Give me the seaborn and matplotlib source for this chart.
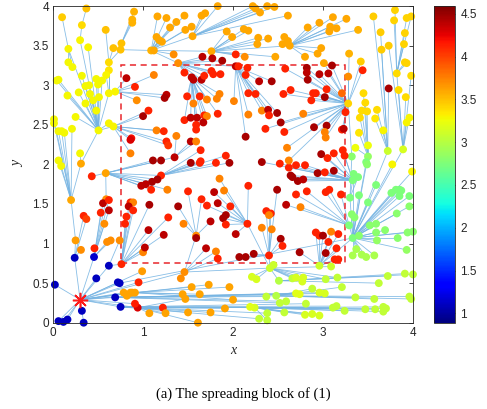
import numpy as np
import pandas as pd
import seaborn as sns
import matplotlib
import matplotlib.pyplot as plt
from matplotlib.collections import LineCollection
from matplotlib.patches import Rectangle

# Hub nodes of the spreading tree: position, colour value and parent hub
hub_name = ["S", "BA", "BB", "BC", "BD", "BE", "BF", "OA", "OB", "OC", "YH",
            "Y1", "Y2", "Y3", "Y4", "Y5", "Y6", "Y8", "O1", "O2", "T1", "T2",
            "T3", "T4", "R1", "R2", "D1", "H1", "O3", "H2", "H3", "H4", "OH",
            "OH2", "YH1", "Rm", "RC", "GH", "YH2", "G1", "G2", "RH", "G3",
            "G4", "YR1", "YR2", "YR3", "YR4", "Y7", "OD", "OE", "L1", "L2"]
hub_x = [0.30, 0.24, 0.455, 0.62, 0.74, 0.69, 0.75, 0.25, 0.20, 0.31, 0.505,
         0.30, 0.17, 0.62, 0.62, 0.69, 0.67, 0.32, 0.75, 0.76, 1.09, 1.55,
         1.76, 2.63, 1.39, 1.54, 2.03, 0.76, 0.59, 0.585, 1.20, 1.35, 1.46,
         1.59, 2.41, 2.40, 2.16, 3.33, 2.96, 3.30, 3.32, 3.28, 3.29,
         3.33, 3.50, 3.72, 3.89, 3.82, 2.51, 0.91, 0.94, 2.24, 2.48]
hub_y = [0.29, 0.82, 0.83, 0.72, 0.50, 0.32, 0.20, 1.04, 1.55, 2.01, 2.43,
         3.57, 3.46, 2.90, 3.29, 2.92, 2.48, 3.76, 3.45, 3.53, 3.44, 3.62,
         3.43, 3.50, 3.28, 3.10, 3.24, 0.74, 1.56, 1.89, 1.86, 2.09, 0.64,
         1.10, 0.69, 0.85, 1.25, 1.07, 0.72, 1.58, 2.10, 2.77, 1.23,
         1.80, 2.10, 2.17, 2.19, 3.15, 0.53, 0.38, 0.19, 0.19, 0.34]
hub_v = [0.9, 1.1, 1.15, 1.1, 1.1, 1.1, 1.1, 3.65, 3.6, 3.6, 3.28,
         3.3, 3.3, 3.3, 3.4, 3.3, 3.3, 3.4, 3.5, 3.5, 3.55, 3.6,
         3.6, 3.6, 3.7, 4.38, 4.4, 4.1, 3.7, 3.62, 4.12, 4.4, 3.7,
         3.7, 3.1, 4.12, 4.12, 2.75, 3.1, 2.75, 2.8, 3.42, 2.75,
         2.75, 2.85, 3.1, 3.15, 3.4, 3.0, 3.62, 4.3, 3.15, 3.0]
hub_parent = [None, "S", "S", "S", "S", "S", "S", "BA", "OA", "OB", "OC",
              "YH", "YH", "YH", "Y3", "Y3", "YH", "Y1", "Y4", "O1", "O1", "T1",
              "T1", "T3", "T1", "R1", "R1", "BC", "BB", "O3", "H2", "H2", "S",
              "OH", "OH", "YH1", "YH1", "BD", "GH", "GH", "G1", "G2", "GH",
              "GH", "GH", "GH", "GH", "YR3", "YH1", "S", "S", "BF", "BE"]

# Leaf nodes (x, y, value) grouped by the hub they hang from
leaf_S = [(0.02, 0.48, 1.1), (0.32, 0.15, 1.1), (0.34, 0.0, 1.1), (0.06, 0.02, 1.1),
          (0.115, 0.01, 1.1), (0.16, 0.04, 1.1), (0.48, 0.56, 1.1), (0.72, 0.51, 1.1),
          (0.785, 0.38, 3.62), (0.82, 0.34, 3.62), (0.86, 0.38, 3.62), (0.88, 0.38, 3.62),
          (0.95, 0.51, 4.12), (0.99, 0.65, 3.65), (0.91, 0.24, 4.15)]
leaf_BA = [(0.31, 0.92, 3.7), (0.34, 1.35, 4.12), (0.37, 1.31, 4.0)]
leaf_BB = [(0.46, 0.94, 4.12), (0.60, 1.02, 3.7), (0.64, 1.04, 3.7), (0.57, 1.25, 3.7),
           (0.53, 1.39, 4.12), (0.62, 1.42, 4.4), (0.555, 1.51, 4.4), (0.62, 1.55, 4.12)]
leaf_BC = [(0.74, 1.04, 3.7)]
leaf_OB = [(0.01, 2.57, 3.28), (0.01, 2.52, 3.28), (0.06, 2.42, 3.28), (0.095, 2.42, 3.28),
           (0.125, 2.40, 3.28), (0.06, 2.05, 3.28), (0.09, 1.98, 3.28), (0.21, 2.45, 3.28)]
leaf_OC = [(0.30, 2.14, 3.28)]
leaf_YH = [(0.39, 3.48, 3.3), (0.16, 2.87, 3.28), (0.285, 2.91, 3.28), (0.41, 2.89, 3.28),
           (0.445, 2.81, 3.28), (0.51, 2.85, 3.28), (0.36, 2.77, 3.28), (0.48, 2.68, 3.28),
           (0.25, 2.60, 3.28), (0.36, 2.99, 3.28), (0.40, 3.00, 3.28), (0.50, 3.01, 3.28),
           (0.48, 3.08, 3.28), (0.545, 3.06, 3.28), (0.32, 3.12, 3.28), (0.06, 3.07, 3.28),
           (0.04, 3.06, 3.28), (0.62, 2.52, 3.3)]
leaf_Y8 = [(0.37, 3.97, 3.5)]
leaf_Y2 = [(0.10, 3.86, 3.45), (0.17, 3.29, 3.28), (0.215, 3.23, 3.28)]
leaf_Y3 = [(0.62, 3.19, 3.35), (0.59, 3.13, 3.3)]
leaf_Y4 = [(0.67, 3.47, 3.5), (0.585, 3.70, 3.5)]
leaf_Y5 = [(0.815, 3.09, 4.4), (0.91, 2.98, 4.12), (0.93, 2.81, 3.7), (1.26, 2.88, 4.4),
           (1.24, 2.84, 4.45), (1.12, 3.13, 3.75)]
leaf_Y6 = [(1.0, 2.61, 4.45), (1.06, 2.68, 4.12), (1.15, 2.43, 3.75), (1.23, 2.42, 4.1),
           (0.87, 2.33, 4.2), (0.86, 2.31, 4.3), (1.26, 2.29, 4.12), (1.28, 2.24, 4.05),
           (0.86, 2.14, 3.75)]
leaf_O2 = [(0.88, 3.79, 3.55), (0.88, 3.83, 3.55), (0.90, 3.93, 3.55)]
leaf_T1 = [(1.15, 3.61, 3.6), (1.18, 3.57, 3.6), (1.21, 3.55, 3.6), (1.12, 3.44, 3.6),
           (1.16, 3.87, 3.6), (1.26, 3.85, 3.6), (1.37, 3.80, 3.6), (1.46, 3.88, 3.6),
           (1.30, 3.73, 3.6), (1.47, 3.70, 3.6), (1.54, 3.74, 3.6), (1.34, 3.39, 3.7)]
leaf_T2 = [(2.22, 4.0, 3.6), (2.25, 3.97, 3.6), (2.30, 3.92, 3.6), (2.38, 4.0, 3.6),
           (2.46, 3.99, 3.6), (2.61, 3.88, 3.6), (1.83, 4.0, 3.6), (1.65, 3.88, 3.6),
           (1.69, 3.91, 3.6)]
leaf_T3 = [(2.28, 3.60, 3.6), (2.39, 3.59, 3.6), (2.27, 3.52, 3.6), (1.93, 3.68, 3.6),
           (1.99, 3.61, 3.6), (2.12, 3.71, 3.6), (2.17, 3.69, 3.6), (2.47, 3.36, 3.6),
           (2.13, 3.36, 3.7), (2.03, 3.39, 4.12)]
leaf_T4 = [(2.57, 3.61, 3.6), (2.61, 3.56, 3.6), (2.55, 3.52, 3.6), (2.83, 3.73, 3.6),
           (2.96, 3.79, 3.6), (3.11, 3.86, 3.6), (3.26, 3.84, 3.6), (3.08, 3.74, 3.6),
           (3.07, 3.68, 3.6), (3.15, 3.72, 3.6), (3.39, 3.70, 3.55), (2.98, 3.47, 3.6),
           (2.94, 3.40, 3.6), (2.80, 3.36, 3.6)]
leaf_R1 = [(1.46, 3.16, 4.12), (1.56, 3.07, 4.4), (1.65, 3.07, 4.4), (1.68, 3.12, 4.12),
           (1.76, 3.18, 4.12), (1.78, 3.14, 4.12), (1.86, 3.14, 4.12), (1.66, 3.36, 4.4),
           (1.77, 3.34, 4.4), (1.88, 3.31, 4.45)]
leaf_R2 = [(1.49, 2.86, 4.12), (1.63, 2.86, 4.12), (1.71, 2.82, 3.75), (1.85, 2.89, 3.75),
           (1.82, 2.83, 3.75), (1.56, 2.77, 3.75), (1.46, 2.56, 4.12), (1.53, 2.59, 4.4),
           (1.60, 2.59, 4.4), (1.68, 2.62, 4.12), (1.71, 2.61, 3.75), (1.83, 2.64, 4.12),
           (1.59, 2.50, 4.12), (1.59, 2.44, 4.12), (1.67, 2.53, 4.4)]
leaf_D1 = [(2.06, 3.24, 4.12), (2.16, 3.22, 4.12), (2.14, 3.13, 4.12), (2.29, 3.05, 4.4),
           (2.43, 3.05, 4.45), (2.01, 2.80, 3.75), (2.17, 2.90, 4.12), (2.25, 2.89, 4.12),
           (2.32, 2.68, 3.75), (2.17, 2.63, 3.75), (2.14, 2.35, 4.45), (2.39, 2.69, 4.4),
           (2.40, 2.62, 4.12), (2.49, 2.65, 4.45)]
leaf_H1 = [(0.80, 1.25, 4.12), (0.815, 1.34, 4.12), (1.0, 0.89, 3.75), (1.02, 0.95, 4.4),
           (1.06, 1.17, 4.4), (1.23, 1.11, 4.4), (0.86, 1.52, 4.12), (0.89, 1.52, 3.75),
           (0.84, 1.47, 4.4), (0.89, 1.42, 4.12), (1.07, 1.49, 4.45), (1.28, 1.33, 4.12)]
leaf_H2 = [(1.11, 2.05, 4.45), (1.2, 2.05, 4.45), (1.1, 1.78, 4.45), (1.16, 1.81, 4.45),
           (0.98, 1.73, 4.4), (1.03, 1.75, 4.4), (1.09, 1.68, 4.12), (1.27, 1.68, 3.75),
           (0.43, 1.85, 4.12)]
leaf_H3 = [(1.53, 2.02, 4.45), (1.63, 2.02, 4.12), (1.64, 2.04, 4.12), (1.81, 2.02, 4.12),
           (1.96, 2.02, 4.45), (1.92, 2.11, 4.12), (1.64, 2.18, 4.12)]
leaf_H4 = [(1.37, 2.36, 3.75), (1.53, 2.29, 4.4), (1.59, 2.29, 3.75)]
leaf_OH = [(1.70, 0.94, 4.4), (1.81, 0.90, 3.75), (1.83, 0.81, 4.12), (1.42, 0.56, 3.7)]
leaf_OH2 = [(1.50, 1.66, 4.12), (1.65, 1.56, 4.12), (1.39, 1.47, 4.45), (1.45, 1.25, 3.75),
            (1.75, 1.28, 4.4), (1.59, 1.07, 4.45)]
leaf_YH1 = [(2.45, 0.73, 3.1), (2.21, 0.58, 3.15), (2.26, 0.55, 3.15), (2.66, 0.56, 3.05),
            (2.70, 0.57, 3.15), (2.78, 0.57, 3.15), (2.77, 0.52, 3.15), (3.03, 0.55, 3.05),
            (3.16, 0.57, 3.05), (3.09, 0.71, 3.1)]
leaf_Rm = [(2.37, 1.41, 4.12), (2.42, 1.38, 4.12), (2.40, 1.36, 3.75), (2.32, 1.20, 3.75),
           (2.43, 1.18, 3.75), (2.53, 1.06, 4.45), (2.55, 0.97, 4.12), (2.07, 0.83, 4.45),
           (2.14, 0.83, 4.45), (2.23, 0.87, 4.45), (2.49, 1.68, 4.45)]
leaf_RC = [(1.85, 1.82, 3.75), (2.17, 1.73, 4.12), (1.79, 1.65, 4.4), (1.90, 1.67, 3.75),
           (1.97, 1.47, 4.12), (1.83, 1.51, 4.4), (1.89, 1.32, 4.45), (1.92, 1.36, 4.45),
           (1.92, 1.24, 4.12), (2.03, 1.12, 4.4), (1.71, 1.48, 4.12)]
leaf_GH = [(3.40, 1.61, 2.75), (3.50, 1.52, 2.75), (3.32, 1.37, 2.8), (3.35, 1.33, 2.8),
           (3.52, 1.23, 2.8), (3.59, 1.25, 2.8), (3.69, 1.17, 2.8), (3.59, 1.14, 2.8),
           (3.83, 1.07, 2.8), (3.94, 1.14, 2.8), (4.0, 1.15, 2.8), (3.40, 1.10, 2.8),
           (3.37, 0.93, 2.95), (3.33, 0.85, 2.95), (3.43, 0.86, 2.95), (3.48, 0.83, 2.95),
           (3.57, 0.85, 2.95), (3.60, 1.04, 2.85), (3.93, 0.92, 2.85), (3.82, 1.38, 2.8),
           (3.96, 1.47, 2.8), (3.59, 1.74, 2.75), (3.76, 1.64, 2.75), (3.81, 1.68, 2.75),
           (3.85, 1.68, 2.75), (3.87, 1.67, 2.75), (3.85, 1.60, 2.75), (3.96, 1.60, 2.75),
           (3.77, 2.0, 3.3), (3.99, 1.91, 3.3), (3.48, 2.03, 2.75)]
leaf_G1 = [(3.34, 1.88, 2.75), (3.39, 1.84, 2.75)]
leaf_G3 = [(2.70, 1.62, 4.12), (2.82, 1.66, 4.12), (3.03, 1.65, 4.12), (3.07, 1.68, 4.12),
           (3.20, 1.62, 4.12), (2.75, 1.46, 3.75), (2.59, 1.49, 4.4)]
leaf_G4 = [(2.94, 1.89, 4.45), (3.02, 1.90, 4.12), (3.12, 1.92, 4.45), (2.66, 1.84, 4.45),
           (2.72, 1.79, 4.45), (2.78, 1.81, 4.4), (2.70, 1.99, 4.12), (2.80, 1.99, 4.12),
           (2.62, 1.96, 4.12), (2.64, 1.86, 4.45), (3.22, 2.18, 4.12), (3.24, 2.11, 4.12),
           (3.12, 2.14, 4.12), (3.05, 2.08, 4.12), (2.98, 2.13, 4.45), (2.32, 2.03, 4.45),
           (2.52, 2.01, 4.12)]
leaf_YH2 = [(2.92, 1.14, 4.12), (2.96, 1.10, 4.12), (3.00, 1.10, 4.45), (3.09, 1.15, 3.75),
            (3.17, 1.12, 4.12), (3.06, 1.02, 4.12), (3.15, 0.94, 4.12), (3.03, 0.88, 4.45),
            (3.13, 0.80, 4.12), (3.17, 0.80, 4.12), (2.74, 0.89, 4.45)]
leaf_RH = [(2.82, 3.22, 4.45), (2.82, 3.16, 4.4), (2.83, 3.07, 4.45), (2.96, 3.14, 4.4),
           (3.06, 3.15, 4.4), (3.10, 3.25, 4.45), (2.89, 2.90, 4.12), (2.92, 2.90, 4.12),
           (2.87, 2.81, 4.12), (3.04, 2.95, 4.12), (3.02, 2.85, 4.45), (3.21, 2.90, 3.85),
           (3.28, 3.11, 3.7), (3.29, 3.40, 3.55), (3.44, 3.19, 4.12), (3.42, 3.30, 3.45),
           (2.78, 2.64, 3.75), (3.25, 2.66, 4.12), (2.56, 2.89, 4.12), (2.64, 2.94, 4.12),
           (2.58, 3.21, 4.12), (3.01, 3.28, 3.6), (2.57, 2.41, 4.12), (2.53, 2.53, 4.45),
           (2.36, 2.45, 4.12), (2.60, 2.21, 3.75), (2.62, 2.05, 3.75), (2.90, 2.47, 4.45),
           (3.04, 2.49, 4.45), (3.02, 2.41, 3.75), (3.03, 2.34, 3.75), (3.21, 2.44, 4.12),
           (3.23, 2.45, 4.4)]
leaf_YR1 = [(3.41, 2.59, 3.4), (3.43, 2.68, 3.4), (3.49, 2.67, 3.4), (3.47, 2.78, 3.4),
            (3.45, 2.90, 3.4), (3.50, 2.24, 3.25), (3.36, 2.21, 3.25), (3.40, 2.40, 3.35),
            (3.49, 2.0, 2.8)]
leaf_YR2 = [(3.67, 2.43, 3.3), (3.60, 2.69, 3.4), (3.58, 2.58, 3.35), (3.73, 2.96, 4.45),
            (3.65, 3.45, 3.45), (3.64, 3.67, 3.45), (3.56, 3.87, 3.45)]
leaf_YR3 = [(3.84, 2.94, 3.4), (3.92, 2.85, 3.4), (3.96, 2.59, 3.3), (3.93, 2.53, 3.3),
            (3.73, 3.50, 3.45), (3.98, 3.12, 3.4)]
leaf_YR4 = [(3.91, 3.29, 3.42), (3.93, 3.28, 3.42), (3.9, 3.52, 3.42), (3.91, 3.66, 3.42),
            (3.93, 3.85, 3.42), (3.98, 3.87, 3.42), (3.80, 3.95, 3.42), (3.79, 3.82, 3.42)]
leaf_Y7 = [(3.72, 0.59, 3.05), (3.91, 0.62, 3.05), (4.0, 0.61, 3.05), (3.62, 0.50, 3.05)]
leaf_OD = [(1.44, 0.36, 3.62), (1.63, 0.36, 3.62), (1.54, 0.45, 3.62), (1.73, 0.48, 3.62),
           (1.96, 0.45, 3.62), (2.0, 0.29, 3.62)]
leaf_OE = [(1.07, 0.12, 3.62), (1.22, 0.19, 4.12), (1.25, 0.12, 3.62), (1.50, 0.13, 3.62),
           (1.75, 0.13, 3.62), (1.91, 0.18, 3.62), (1.61, 0.0, 3.62), (1.47, 0.30, 3.62)]
leaf_BF = [(2.19, 0.20, 3.2), (2.81, 0.24, 3.05), (3.11, 0.19, 3.05), (3.15, 0.21, 3.05),
           (2.38, 0.12, 3.05), (2.29, 0.05, 3.05)]
leaf_L1 = [(3.24, 0.15, 3.05), (3.47, 0.17, 3.05), (3.58, 0.17, 3.05), (3.67, 0.20, 3.05),
           (3.70, 0.18, 3.05), (3.67, 0.14, 3.05), (2.80, 0.10, 3.15), (2.88, 0.11, 3.15),
           (2.96, 0.09, 3.15), (2.57, 0.13, 3.05), (2.38, 0.03, 3.05)]
leaf_BE = [(2.37, 0.33, 3.05), (2.70, 0.37, 3.2), (2.74, 0.36, 3.2), (2.96, 0.38, 3.15),
           (3.02, 0.37, 3.15), (2.52, 0.25, 3.05), (2.59, 0.27, 3.05)]
leaf_L2 = [(3.36, 0.32, 3.05), (3.57, 0.30, 3.05), (3.96, 0.33, 3.05), (3.98, 0.30, 3.05),
           (3.21, 0.45, 3.05), (2.88, 0.43, 3.05)]

leaves = {"S": leaf_S, "BA": leaf_BA, "BB": leaf_BB, "BC": leaf_BC, "OB": leaf_OB,
          "OC": leaf_OC, "YH": leaf_YH, "Y8": leaf_Y8, "Y2": leaf_Y2, "Y3": leaf_Y3,
          "Y4": leaf_Y4, "Y5": leaf_Y5, "Y6": leaf_Y6, "O2": leaf_O2, "T1": leaf_T1,
          "T2": leaf_T2, "T3": leaf_T3, "T4": leaf_T4, "R1": leaf_R1, "R2": leaf_R2,
          "D1": leaf_D1, "H1": leaf_H1, "H2": leaf_H2, "H3": leaf_H3, "H4": leaf_H4,
          "OH": leaf_OH, "OH2": leaf_OH2, "YH1": leaf_YH1, "Rm": leaf_Rm, "RC": leaf_RC,
          "GH": leaf_GH, "G1": leaf_G1, "G3": leaf_G3, "G4": leaf_G4, "YH2": leaf_YH2,
          "RH": leaf_RH, "YR1": leaf_YR1, "YR2": leaf_YR2, "YR3": leaf_YR3,
          "YR4": leaf_YR4, "Y7": leaf_Y7, "OD": leaf_OD, "OE": leaf_OE, "BF": leaf_BF,
          "L1": leaf_L1, "BE": leaf_BE, "L2": leaf_L2}

cbar_ticks = [1, 1.5, 2, 2.5, 3, 3.5, 4, 4.5]
vmin, vmax = 0.89, 4.59

sns.set_theme(style="white")
plt.rcParams["font.family"] = ["Liberation Sans", "DejaVu Sans"]
jet = matplotlib.colormaps["jet"]


def build_tree():
    pos = {n: (x, y) for n, x, y in zip(hub_name, hub_x, hub_y)}
    rows, segs = [], []
    for n, x, y, v, p in zip(hub_name, hub_x, hub_y, hub_v, hub_parent):
        if p is not None:
            segs.append([pos[p], (x, y)])
            rows.append((x, y, v))
    for h, pts in leaves.items():
        for x, y, v in pts:
            segs.append([pos[h], (x, y)])
            rows.append((x, y, v))
    df = pd.DataFrame(rows, columns=["x", "y", "v"])
    return df, segs


def main():
    df, segs = build_tree()
    fig = plt.figure(figsize=(4.87, 4.09), dpi=100)
    ax = fig.add_axes([0.109, 0.211, 0.739, 0.774])
    cax = fig.add_axes([0.891, 0.211, 0.044, 0.774])

    ax.add_collection(LineCollection(segs, colors="#74b3e2", linewidths=0.6,
                                     alpha=0.85, zorder=1))
    ax.add_patch(Rectangle((0.75, 0.75), 2.5, 2.5, fill=False, ec="#e8262b",
                           lw=1.1, ls=(0, (4, 3)), zorder=1.5))
    sns.scatterplot(data=df, x="x", y="y", hue="v", palette=jet,
                    hue_norm=(vmin, vmax), s=32, edgecolor="none", linewidth=0,
                    legend=False, ax=ax, zorder=2, clip_on=False)
    ax.plot(hub_x[0], hub_y[0], marker=(8, 2, 0), color="#ff1a1a", ms=11,
            mew=1.1, zorder=3, ls="none", clip_on=False)

    ax.set_xlim(0, 4)
    ax.set_ylim(0, 4)
    ax.set_xticks([0, 1, 2, 3, 4])
    ax.set_yticks(np.arange(0, 4.01, 0.5))
    ax.set_yticklabels(["0", "0.5", "1", "1.5", "2", "2.5", "3", "3.5", "4"])
    ax.tick_params(direction="in", length=3, width=0.6, colors="#262626",
                   labelsize=8.5, top=True, right=True, pad=3)
    for sp in ax.spines.values():
        sp.set_color("#262626")
        sp.set_linewidth(0.6)
    ax.set_xlabel("x", family="Liberation Serif", style="italic", fontsize=10,
                  color="#262626", labelpad=4)
    ax.set_ylabel("y", family="Liberation Serif", style="italic", fontsize=10,
                  color="#262626", labelpad=6)

    sm = matplotlib.cm.ScalarMappable(norm=matplotlib.colors.Normalize(vmin, vmax),
                                      cmap=jet)
    cb = fig.colorbar(sm, cax=cax, ticks=cbar_ticks)
    cb.ax.set_yticklabels(["1", "1.5", "2", "2.5", "3", "3.5", "4", "4.5"])
    cb.ax.tick_params(direction="in", length=3, width=0.6, colors="#262626",
                      labelsize=8.5)
    cb.outline.set_edgecolor("#262626")
    cb.outline.set_linewidth(0.6)

    fig.text(0.5, 0.028, "(a) The spreading block of (1)", ha="center",
             family="Liberation Serif", fontsize=10.5, color="black")
    fig.savefig("out.png", dpi=100)


if __name__ == "__main__":
    main()
